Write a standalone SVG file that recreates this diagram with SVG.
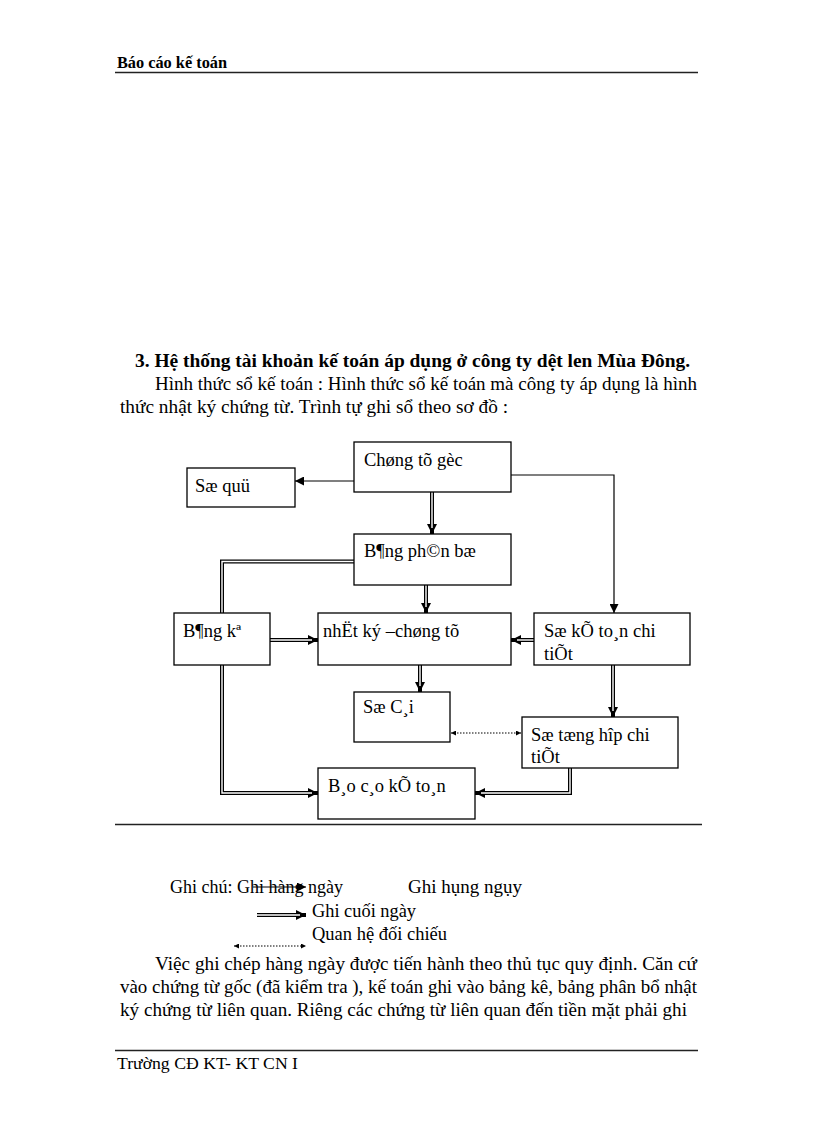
<svg xmlns="http://www.w3.org/2000/svg" width="816" height="1123" viewBox="0 0 816 1123">
<defs>
<style>
text{font-family:"Liberation Serif","Times New Roman",serif;fill:#000}
.hd{font-size:16px}
.tx{font-size:18px}
.bx{font-size:18.5px}
.box{fill:#fff;stroke:#000;stroke-width:1.3}
.sgl{fill:none;stroke:#000;stroke-width:1.2}
.dbl{fill:none;stroke:#000;stroke-width:4}
.dbli{fill:none;stroke:#fff;stroke-width:1.4}
.dot{fill:none;stroke:#000;stroke-width:1.2;stroke-dasharray:1.5 1.5}
.rule{stroke:#222;stroke-width:1.6}
</style>
<marker id="ah" viewBox="0 0 10 10" refX="10" refY="5" markerWidth="9" markerHeight="9" markerUnits="userSpaceOnUse" orient="auto">
<path d="M0,0 L10,5 L0,10 Z" fill="#000"/>
</marker>
<marker id="ahd" viewBox="0 0 10 10" refX="10" refY="5" markerWidth="2.6" markerHeight="2.6" orient="auto">
<path d="M0,0 L10,5 L0,10 Z" fill="#000"/>
</marker>
<marker id="ahs" viewBox="0 0 10 10" refX="10" refY="5" markerWidth="5" markerHeight="5" markerUnits="userSpaceOnUse" orient="auto-start-reverse">
<path d="M0,0 L10,5 L0,10 Z" fill="#000"/>
</marker>
</defs>

<g id="header">
<text class="hd" x="117" y="68" font-weight="bold" textLength="110" lengthAdjust="spacingAndGlyphs">Báo cáo kế toán</text>
<line class="rule" x1="115" y1="72.5" x2="698" y2="72.5"/>
</g>

<g id="intro">
<text class="tx" x="135" y="367" font-weight="bold" textLength="555" lengthAdjust="spacingAndGlyphs">3. Hệ thống tài khoản kế toán áp dụng ở công ty dệt len Mùa Đông.</text>
<text class="tx" x="155" y="390" textLength="542" lengthAdjust="spacingAndGlyphs">Hình thức sổ kế toán : Hình thức sổ kế toán mà công ty áp dụng là hình</text>
<text class="tx" x="120" y="413" textLength="388" lengthAdjust="spacingAndGlyphs">thức nhật ký chứng từ. Trình tự ghi sổ theo sơ đồ :</text>
</g>

<g id="connectors">
<path class="sgl" d="M354,481 H295" marker-end="url(#ah)"/>
<path class="sgl" d="M511,475 H614 V613" marker-end="url(#ah)"/>
<path class="dbl" d="M432,492 V534" marker-end="url(#ahd)"/>
<path class="dbli" d="M432,492 V528"/>
<path class="dbl" d="M426,585 V613" marker-end="url(#ahd)"/>
<path class="dbli" d="M426,585 V607"/>
<path class="dbl" d="M354,561.5 H222 V613"/>
<path class="dbli" d="M354,561.5 H222 V613"/>
<path class="dbl" d="M222,665 V793 H318" marker-end="url(#ahd)"/>
<path class="dbli" d="M222,665 V793 H312"/>
<path class="dbl" d="M270,640 H318" marker-end="url(#ahd)"/>
<path class="dbli" d="M270,640 H312"/>
<path class="dbl" d="M534,640 H511" marker-end="url(#ahd)"/>
<path class="dbli" d="M534,640 H517"/>
<path class="dbl" d="M420,665 V692" marker-end="url(#ahd)"/>
<path class="dbli" d="M420,665 V686"/>
<path class="dbl" d="M613,665 V717" marker-end="url(#ahd)"/>
<path class="dbli" d="M613,665 V711"/>
<path class="dbl" d="M570,768 V793 H475" marker-end="url(#ahd)"/>
<path class="dbli" d="M570,768 V793 H481"/>
<path class="dot" d="M451,733 H521" marker-start="url(#ahs)" marker-end="url(#ahs)"/>
</g>

<g id="n-chungtugoc">
<rect class="box" x="354" y="442" width="157" height="50"/>
<text class="bx" x="364" y="466">Chøng tõ gèc</text>
</g>
<g id="n-soquy">
<rect class="box" x="187" y="468" width="108" height="39"/>
<text class="bx" x="195" y="492">Sæ quü</text>
</g>
<g id="n-bangphanbo">
<rect class="box" x="354" y="534" width="157" height="51"/>
<text class="bx" x="364" y="557">B¶ng ph©n bæ</text>
</g>
<g id="n-bangke">
<rect class="box" x="174" y="613" width="96" height="52"/>
<text class="bx" x="183" y="637">B¶ng kª</text>
</g>
<g id="n-nhatky">
<rect class="box" x="318" y="613" width="193" height="52"/>
<text class="bx" x="323" y="637">nhËt ký –chøng tõ</text>
</g>
<g id="n-sokttct">
<rect class="box" x="534" y="613" width="156" height="52"/>
<text class="bx" x="544" y="637">Sæ kÕ to¸n chi</text>
<text class="bx" x="544" y="660">tiÕt</text>
</g>
<g id="n-socai">
<rect class="box" x="354" y="692" width="96" height="50"/>
<text class="bx" x="363" y="713">Sæ C¸i</text>
</g>
<g id="n-sothct">
<rect class="box" x="522" y="717" width="156" height="51"/>
<text class="bx" x="531" y="741">Sæ tæng hîp chi</text>
<text class="bx" x="531" y="763">tiÕt</text>
</g>
<g id="n-baocao">
<rect class="box" x="318" y="768" width="157" height="51"/>
<text class="bx" x="328" y="792">B¸o c¸o kÕ to¸n</text>
</g>

<line id="separator" class="rule" x1="115" y1="824.5" x2="702" y2="824.5"/>

<g id="legend">
<text class="tx" x="170" y="893" textLength="173" lengthAdjust="spacingAndGlyphs">Ghi chú: Ghi hàng ngày</text>
<text class="tx" x="408" y="893" textLength="114" lengthAdjust="spacingAndGlyphs">Ghi hụng ngụy</text>
<path class="sgl" d="M253,887 H306" marker-end="url(#ah)"/>
<path class="dbl" d="M257,915 H306" marker-end="url(#ahd)"/>
<path class="dbli" d="M257,915 H300" stroke="#999"/>
<text class="tx" x="312" y="917" textLength="104" lengthAdjust="spacingAndGlyphs">Ghi cuối ngày</text>
<text class="tx" x="312" y="940" textLength="135" lengthAdjust="spacingAndGlyphs">Quan hệ đối chiếu</text>
<path class="dot" d="M234,946 H306" marker-start="url(#ahs)" marker-end="url(#ahs)"/>
</g>

<g id="body">
<text class="tx" x="155" y="970" textLength="542" lengthAdjust="spacingAndGlyphs">Việc ghi chép hàng ngày được tiến hành theo thủ tục quy định. Căn cứ</text>
<text class="tx" x="120" y="993" textLength="577" lengthAdjust="spacingAndGlyphs">vào chứng từ gốc (đã kiểm tra ), kế toán ghi vào bảng kê, bảng phân bổ nhật</text>
<text class="tx" x="120" y="1016" textLength="567" lengthAdjust="spacingAndGlyphs">ký chứng từ liên quan. Riêng các chứng từ liên quan đến tiền mặt phải ghi</text>
</g>

<g id="footer">
<line class="rule" x1="115" y1="1050.5" x2="698" y2="1050.5"/>
<text class="hd" x="117" y="1069" textLength="181" lengthAdjust="spacingAndGlyphs">Trường CĐ KT- KT CN I</text>
</g>
</svg>
